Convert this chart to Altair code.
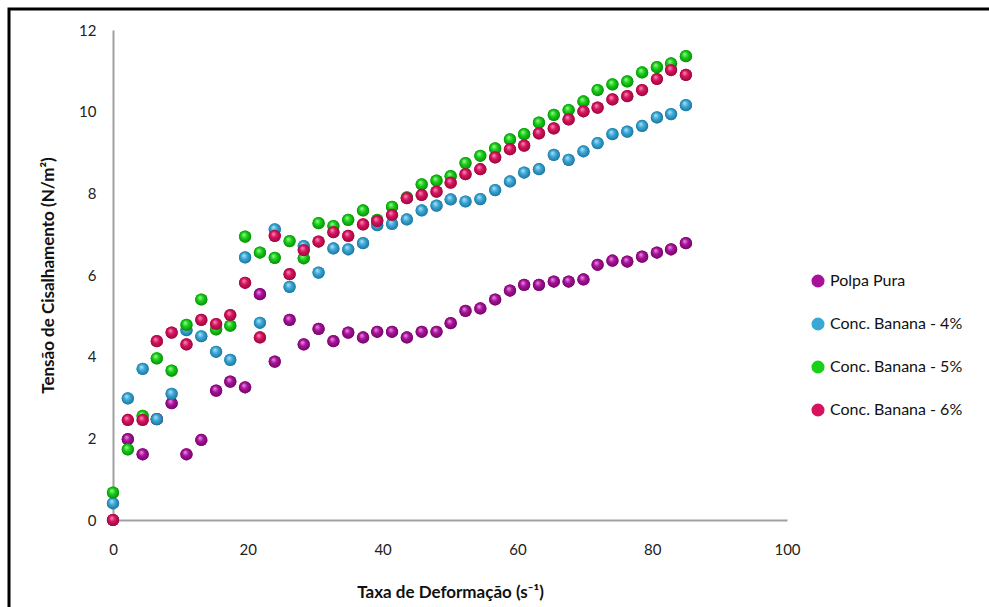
import altair as alt
import pandas as pd

taxa = [0.0, 2.2, 4.4, 6.5, 8.7, 10.9, 13.1, 15.3, 17.4, 19.6,
        21.8, 24.0, 26.2, 28.3, 30.5, 32.7, 34.9, 37.1, 39.2, 41.4,
        43.6, 45.8, 48.0, 50.1, 52.3, 54.5, 56.7, 58.9, 61.0, 63.2,
        65.4, 67.6, 69.8, 71.9, 74.1, 76.3, 78.5, 80.7, 82.8, 85.0]

polpa = [0.0, 1.98, 1.61, 2.47, 2.86, 1.61, 1.96, 3.17, 3.39, 3.25,
         5.53, 3.88, 4.90, 4.30, 4.68, 4.38, 4.59, 4.47, 4.61, 4.61,
         4.47, 4.61, 4.61, 4.82, 5.12, 5.18, 5.40, 5.62, 5.76, 5.76,
         5.84, 5.84, 5.89, 6.25, 6.35, 6.33, 6.45, 6.55, 6.63, 6.78]

banana4 = [0.41, 2.98, 3.70, 2.47, 3.09, 4.65, 4.50, 4.12, 3.92, 6.43,
           4.83, 7.12, 5.71, 6.71, 6.06, 6.65, 6.63, 6.78, 7.22, 7.25,
           7.36, 7.58, 7.70, 7.85, 7.80, 7.86, 8.08, 8.29, 8.51, 8.59,
           8.94, 8.82, 9.03, 9.23, 9.45, 9.51, 9.65, 9.86, 9.94, 10.16]

banana5 = [0.67, 1.73, 2.55, 3.96, 3.66, 4.78, 5.40, 4.67, 4.76, 6.94,
           6.55, 6.42, 6.83, 6.41, 7.27, 7.20, 7.35, 7.58, 7.35, 7.67,
           7.90, 8.22, 8.31, 8.42, 8.74, 8.92, 9.10, 9.32, 9.45, 9.73,
           9.92, 10.04, 10.25, 10.53, 10.67, 10.74, 10.96, 11.09, 11.18, 11.36]

banana6 = [0.0, 2.45, 2.45, 4.38, 4.59, 4.30, 4.90, 4.80, 5.02, 5.81,
           4.47, 6.96, 6.02, 6.61, 6.82, 7.05, 6.96, 7.24, 7.32, 7.47,
           7.88, 7.96, 8.04, 8.26, 8.47, 8.59, 8.88, 9.08, 9.17, 9.47,
           9.59, 9.81, 10.01, 10.10, 10.30, 10.38, 10.53, 10.80, 11.02, 10.90]

series_names = ["Polpa Pura", "Conc. Banana - 4%", "Conc. Banana - 5%", "Conc. Banana - 6%"]
series_values = [polpa, banana4, banana5, banana6]
colors = ["#A8129A", "#3AA8D6", "#17D017", "#D8125E"]
light = ["#F09AE4", "#B8E6F8", "#A8F8A0", "#F898C0"]
dark = ["#6A0660", "#1A6E96", "#0A820A", "#900838"]

rows = []
for name, vals in zip(series_names, series_values):
    for xv, yv in zip(taxa, vals):
        rows.append({"serie": name, "taxa": xv, "tensao": yv})
df = pd.DataFrame(rows)

FONT = "Lato"
SIZE = 150

xenc = alt.X("taxa:Q", scale=alt.Scale(domain=[0, 100], nice=False),
             axis=alt.Axis(values=[0, 20, 40, 60, 80, 100], grid=False, ticks=False,
                           labelFlush=False,
                           domainColor="#A0A0A0", domainWidth=2, labelPadding=22,
                           labelFontSize=15, labelColor="#222222", labelFont=FONT,
                           title="Taxa de Deformação (s⁻¹)", titleFont=FONT,
                           titleFontSize=17, titleFontWeight="bold", titlePadding=27,
                           titleColor="#111111"))
yenc = alt.Y("tensao:Q", scale=alt.Scale(domain=[0, 12], nice=False),
             axis=alt.Axis(values=[0, 2, 4, 6, 8, 10, 12], grid=False, ticks=False,
                           labelFlush=False,
                           domainColor="#A0A0A0", domainWidth=2, labelPadding=17,
                           labelFontSize=15, labelColor="#222222", labelFont=FONT,
                           title="Tensão de Cisalhamento (N/m²)", titleFont=FONT,
                           titleFontSize=17, titleFontWeight="bold", titlePadding=21,
                           titleColor="#111111"))

base = alt.Chart(df).mark_circle(size=SIZE, opacity=1).encode(
    x=xenc,
    y=yenc,
    color=alt.Color("serie:N", sort=series_names,
                    scale=alt.Scale(domain=series_names, range=colors),
                    legend=alt.Legend(title=None, orient="none", legendX=697, legendY=243,
                                      labelFont=FONT, labelFontSize=16, labelColor="#111111",
                                      symbolSize=170, symbolType="circle", rowPadding=27,
                                      symbolOpacity=1, labelOffset=4)),
)

layers = [base]
for name, c, lc, dc in zip(series_names, colors, light, dark):
    grad = alt.RadialGradient(
        gradient="radial",
        x1=0.38, y1=0.32, r1=0.0,
        x2=0.5, y2=0.5, r2=0.55,
        stops=[alt.GradientStop(offset=0, color=lc),
               alt.GradientStop(offset=0.45, color=c),
               alt.GradientStop(offset=1, color=dc)],
    )
    layers.append(
        alt.Chart(df).transform_filter(alt.datum.serie == name)
        .mark_circle(size=SIZE, fill=grad, opacity=1, fillOpacity=1)
        .encode(x="taxa:Q", y="tensao:Q")
    )

border = alt.Chart(pd.DataFrame({"a": [0]})).mark_rect(
    fill=None, fillOpacity=0, stroke="#000000", strokeWidth=3, clip=False
).encode(x=alt.value(-104), x2=alt.value(900), y=alt.value(-21), y2=alt.value(600))
layers.append(border)

chart = alt.layer(*layers).properties(
    width=674, height=490,
    autosize=alt.AutoSizeParams(type="none"),
    padding={"left": 113, "top": 30, "right": 202, "bottom": 87},
    background="white",
).configure_view(stroke=None)

chart.save("out.html", embed_options={"renderer": "svg", "actions": False})
